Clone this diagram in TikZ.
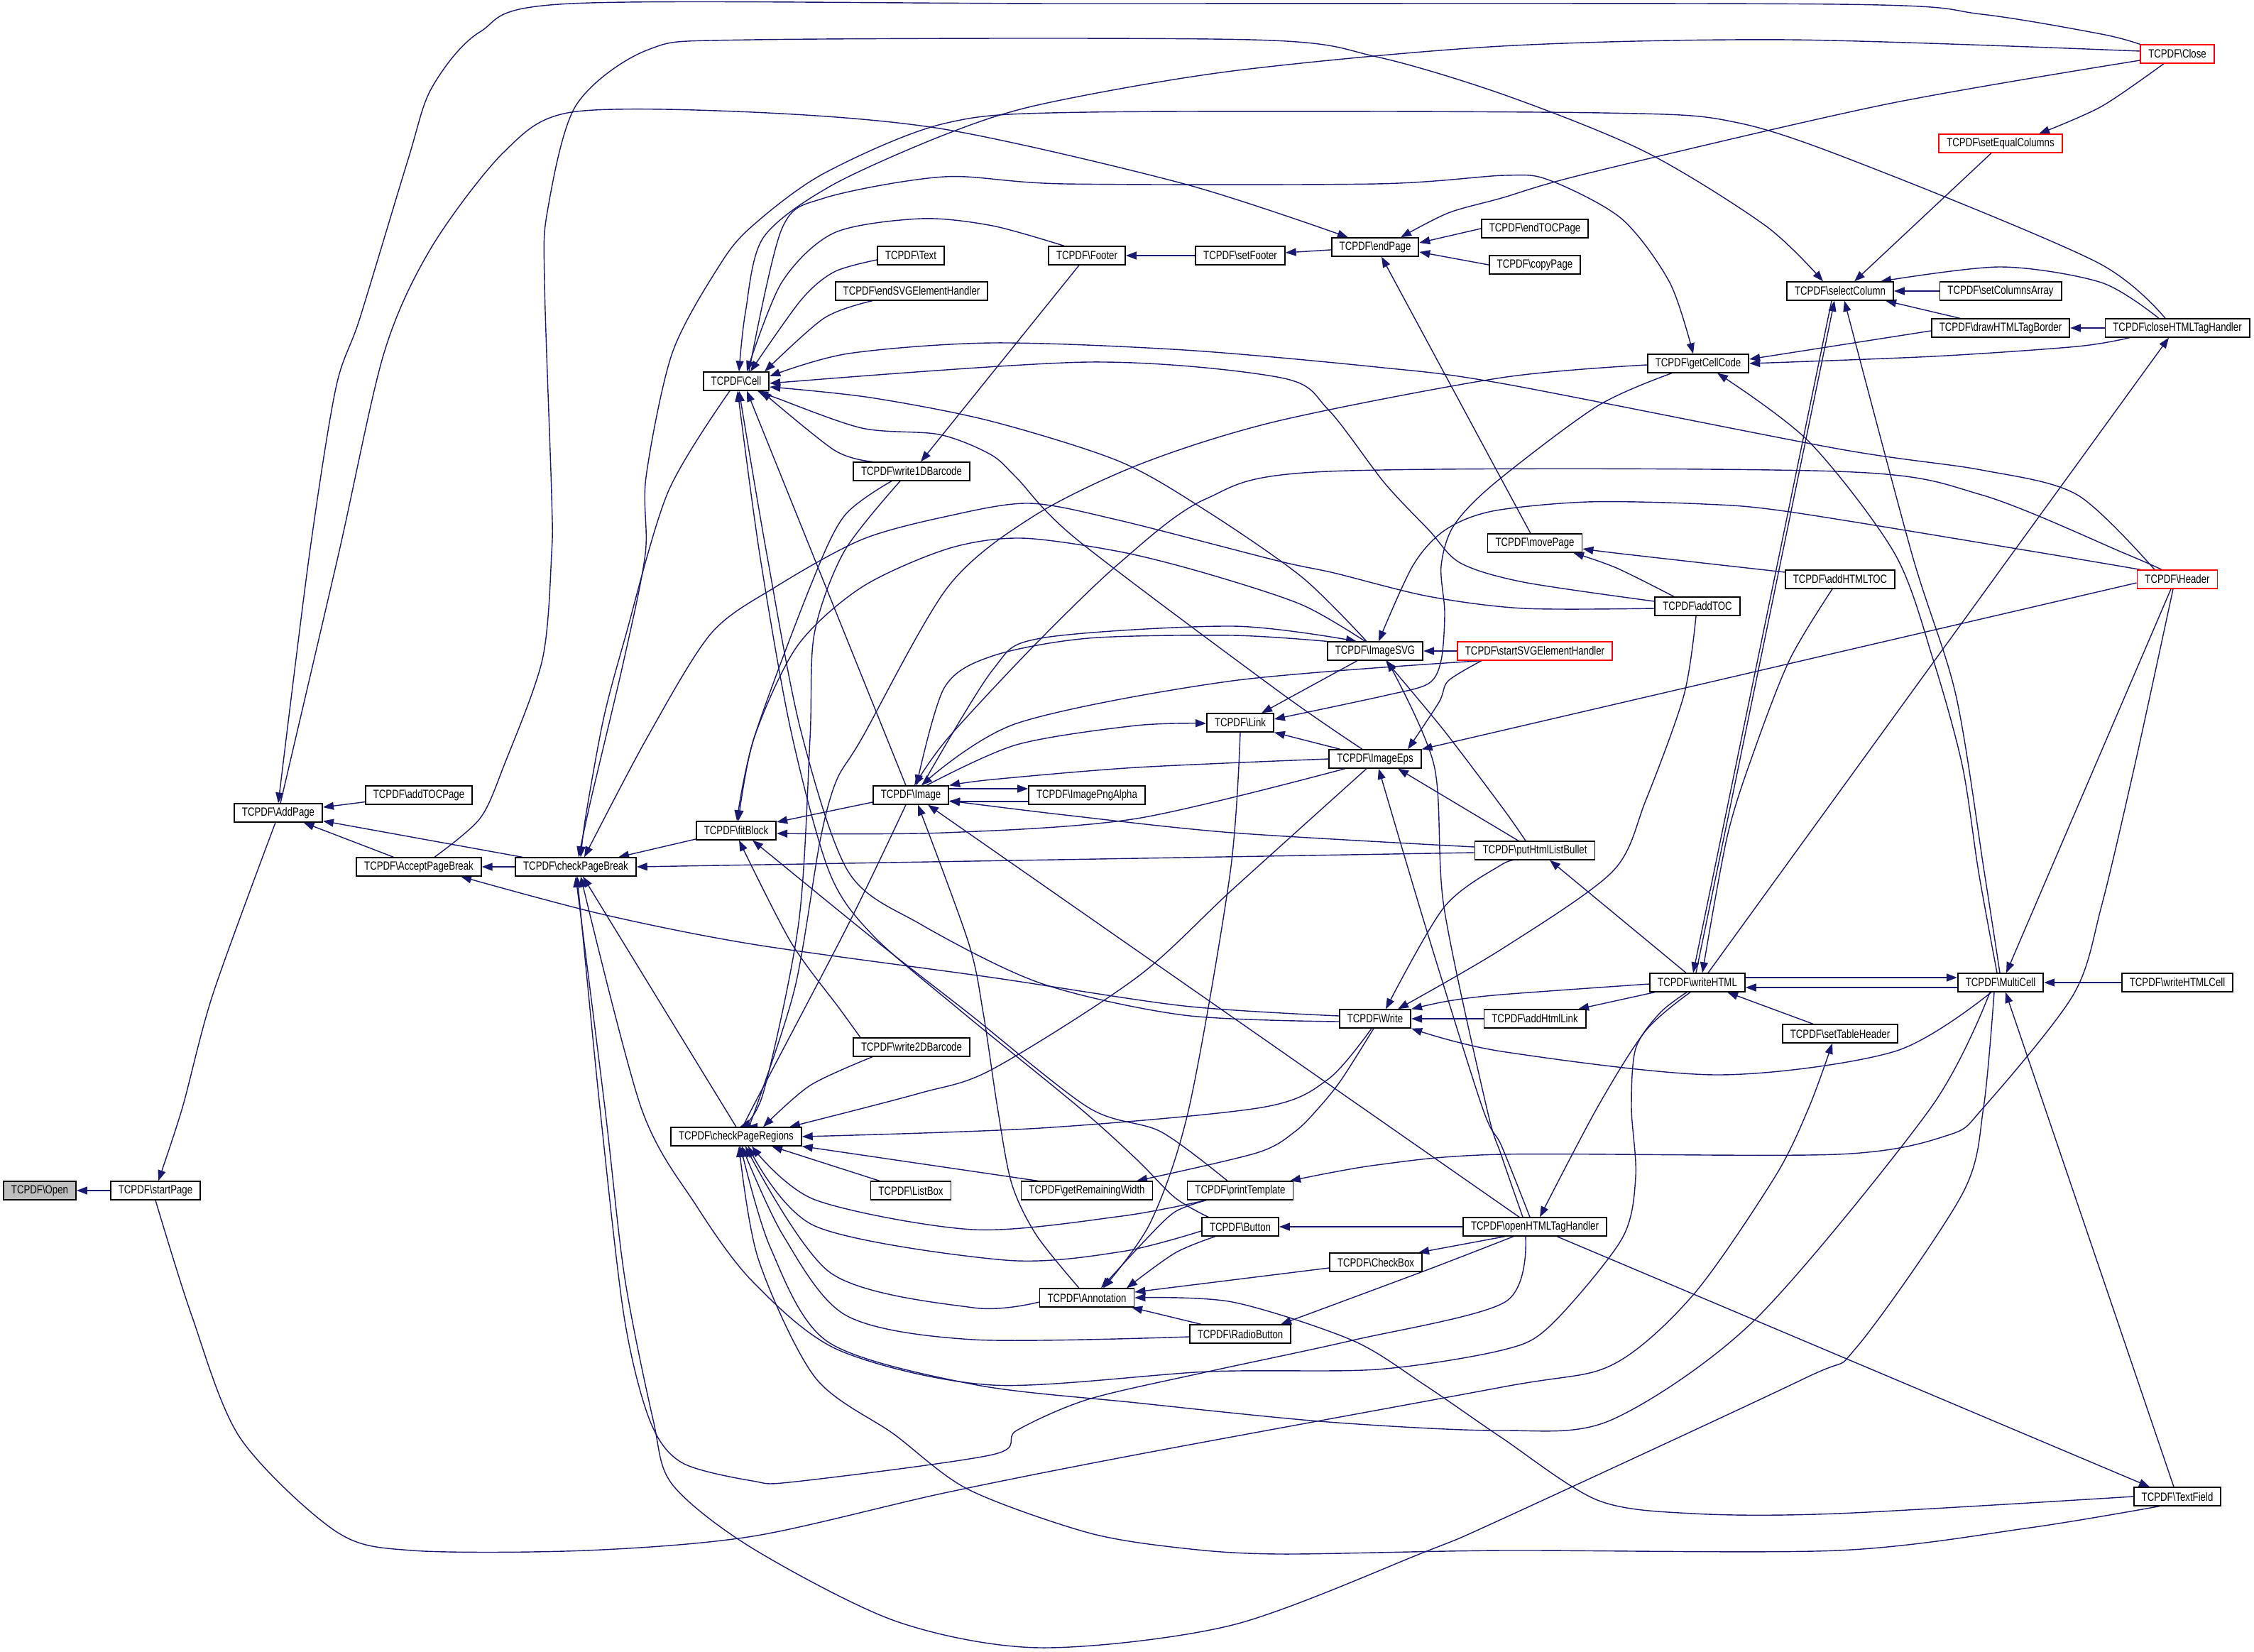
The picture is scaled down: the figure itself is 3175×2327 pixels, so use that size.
\documentclass[tikz,border=0pt]{standalone}
\usepackage{fontspec}
\newfontfamily\nodefont[FakeStretch=0.79]{Liberation Sans}
\usetikzlibrary{arrows.meta}
\pgfdeclarelayer{edges}
\pgfsetlayers{edges,main}
\definecolor{edgeblue}{HTML}{191970}
\definecolor{rootgray}{HTML}{BFBFBF}
\newcommand{\tcp}[1]{TCPDF\textbackslash #1}

\begin{document}
\begin{tikzpicture}[x=0.01cm, y=-0.01cm,
  fn/.style={draw=black, line width=0.5pt, fill=white, text=black,
    font=\nodefont\fontsize{4.76pt}{5.5pt}\selectfont,
    inner xsep=0.11cm, inner ysep=0pt, minimum height=0.255cm},
  root/.style={fn, fill=rootgray},
  trunc/.style={fn, draw=red},
  call/.style={draw=edgeblue, line width=0.4pt, -{Triangle[length=0.15cm,width=0.11cm]}}]
\useasboundingbox (0,0) rectangle (3175,2327);

\node[root] (Open) at (56,1677) {\tcp{Open}};
\node[fn] (startPage) at (219,1677) {\tcp{startPage}};
\node[fn] (AddPage) at (392,1145) {\tcp{AddPage}};
\node[fn] (addTOCPage) at (590,1120) {\tcp{addTOCPage}};
\node[fn] (AcceptPageBreak) at (590,1221) {\tcp{AcceptPageBreak}};
\node[fn] (checkPageBreak) at (811,1221) {\tcp{checkPageBreak}};
\node[fn] (Cell) at (1037,537) {\tcp{Cell}};
\node[fn] (fitBlock) at (1037,1170) {\tcp{fitBlock}};
\node[fn] (checkPageRegions) at (1037,1601) {\tcp{checkPageRegions}};
\node[fn] (Text) at (1283,360) {\tcp{Text}};
\node[fn] (endSVGElementHandler) at (1284,410) {\tcp{endSVGElementHandler}};
\node[fn] (write1DBarcode) at (1284,664) {\tcp{write1DBarcode}};
\node[fn] (Image) at (1283,1120) {\tcp{Image}};
\node[fn] (write2DBarcode) at (1284,1475) {\tcp{write2DBarcode}};
\node[fn] (ListBox) at (1283,1677) {\tcp{ListBox}};
\node[fn] (Footer) at (1531,360) {\tcp{Footer}};
\node[fn] (ImagePngAlpha) at (1531,1120) {\tcp{ImagePngAlpha}};
\node[fn] (getRemainingWidth) at (1531,1677) {\tcp{getRemainingWidth}};
\node[fn] (Annotation) at (1531,1828) {\tcp{Annotation}};
\node[fn] (setFooter) at (1747,360) {\tcp{setFooter}};
\node[fn] (Link) at (1747,1018) {\tcp{Link}};
\node[fn] (printTemplate) at (1747,1677) {\tcp{printTemplate}};
\node[fn] (Button) at (1747,1728) {\tcp{Button}};
\node[fn] (RadioButton) at (1747,1879) {\tcp{RadioButton}};
\node[fn] (endPage) at (1937,348) {\tcp{endPage}};
\node[fn] (ImageSVG) at (1937,917) {\tcp{ImageSVG}};
\node[fn] (ImageEps) at (1937,1069) {\tcp{ImageEps}};
\node[fn] (Write) at (1937,1435) {\tcp{Write}};
\node[fn] (CheckBox) at (1938,1778) {\tcp{CheckBox}};
\node[fn] (endTOCPage) at (2162,322) {\tcp{endTOCPage}};
\node[fn] (copyPage) at (2162,373) {\tcp{copyPage}};
\node[fn] (movePage) at (2162,765) {\tcp{movePage}};
\node[trunc] (startSVGElementHandler) at (2162,917) {\tcp{startSVGElementHandler}};
\node[fn] (putHtmlListBullet) at (2162,1198) {\tcp{putHtmlListBullet}};
\node[fn] (addHtmlLink) at (2162,1435) {\tcp{addHtmlLink}};
\node[fn] (openHTMLTagHandler) at (2162,1728) {\tcp{openHTMLTagHandler}};
\node[fn] (getCellCode) at (2392,512) {\tcp{getCellCode}};
\node[fn] (addTOC) at (2391,854) {\tcp{addTOC}};
\node[fn] (writeHTML) at (2391,1384) {\tcp{writeHTML}};
\node[fn] (selectColumn) at (2592,410) {\tcp{selectColumn}};
\node[fn] (addHTMLTOC) at (2592,816) {\tcp{addHTMLTOC}};
\node[fn] (setTableHeader) at (2592,1456) {\tcp{setTableHeader}};
\node[trunc] (setEqualColumns) at (2818,202) {\tcp{setEqualColumns}};
\node[fn] (setColumnsArray) at (2818,410) {\tcp{setColumnsArray}};
\node[fn] (drawHTMLTagBorder) at (2818,462) {\tcp{drawHTMLTagBorder}};
\node[fn] (MultiCell) at (2818,1384) {\tcp{MultiCell}};
\node[trunc] (Close) at (3067,76) {\tcp{Close}};
\node[fn] (closeHTMLTagHandler) at (3067,462) {\tcp{closeHTMLTagHandler}};
\node[trunc] (Header) at (3067,816) {\tcp{Header}};
\node[fn] (writeHTMLCell) at (3067,1384) {\tcp{writeHTMLCell}};
\node[fn] (TextField) at (3067,2108) {\tcp{TextField}};

\begin{pgfonlayer}{edges}
\foreach \a/\b in {startPage/Open, addTOCPage/AddPage, AcceptPageBreak/AddPage,
    checkPageBreak/AddPage, checkPageBreak/AcceptPageBreak, endPage/setFooter,
    setFooter/Footer, setColumnsArray/selectColumn, closeHTMLTagHandler/drawHTMLTagBorder,
    writeHTMLCell/MultiCell, addHtmlLink/Write, startSVGElementHandler/ImageSVG,
    openHTMLTagHandler/Button}
  \draw[call] (\a) -- (\b);

\draw[call] plot[smooth] coordinates {([xshift=-0.04cm]AddPage.south) (300,1400) (257,1560) ([xshift=0.04cm]startPage.north)};
\draw[call] plot[smooth] coordinates {(startPage.south) (270,1853) (338,2025) (473,2157) (581,2184) (825,2184) (1060,2164) (1330,2103) (1601,2049) (2115,1954) (2270,1923) (2385,1824) (2500,1658) (2548,1560) ([xshift=-0.11cm]setTableHeader.south)};
\draw[call] plot[smooth] coordinates {(Close.north west) (2960,48) (2791,20) (2588,6) (1500,5) (805,5) (676,45) (608,124) (575,224) (507,448) (473,547) (436,780) (AddPage.north)};
\draw[call] plot[smooth] coordinates {([xshift=0.03cm]AddPage.north) (477,780) (541,497) (608,348) (710,214) (805,158) (1060,158) (1330,182) (1668,259) ([xshift=-0.38cm]endPage.north)};
\draw[call] plot[smooth] coordinates {([xshift=0.22cm]AcceptPageBreak.north) (676,1153) (710,1078) (764,929) (777,780) (777,697) (767,398) (771,298) (811,149) (913,70) (1060,56) (1763,56) (1939,80) (2120,134) (2318,214) (2487,318) ([xshift=-0.24cm]selectColumn.north)};
\draw[call] plot[smooth] coordinates {([xshift=-0.17cm]closeHTMLTagHandler.north) (2955,370) (2656,244) (2453,174) (2256,159) (1533,158) (1330,174) (1161,244) (1060,318) (1014,373) (947,497) (910,672) (909,780) (879,929) (832,1128) ([xshift=0.04cm]checkPageBreak.north)};
\draw[call] plot[smooth] coordinates {([yshift=0.04cm]Close.west) (2520,56) (2115,65) (1736,100) (1466,147) (1330,190) (1170,262) (1075,335) (1050,440) ([xshift=0.04cm]Cell.north)};
\draw[call] plot[smooth] coordinates {([yshift=-0.09cm]Close.west) (2656,147) (2237,244) (2115,279) (2040,300) ([xshift=0.36cm]endPage.north)};
\draw[call] plot[smooth] coordinates {([xshift=-0.19cm]Close.south) (2960,150) ([xshift=0.54cm]setEqualColumns.north)};
\draw[call] ([xshift=-0.13cm]setEqualColumns.south) -- ([xshift=0.2cm]selectColumn.north);

\draw[call] plot[smooth] coordinates {([yshift=-0.06cm]Text.west) (1175,383) (1128,423) ([xshift=0.2cm]Cell.north)};
\draw[call] plot[smooth] coordinates {([xshift=-0.55cm]endSVGElementHandler.south) (1161,448) ([xshift=0.4cm]Cell.north)};
\draw[call] plot[smooth] coordinates {([xshift=-0.32cm]Footer.north) (1398,318) (1297,308) (1175,328) (1101,398) ([xshift=0.15cm]Cell.north)};
\draw[call] plot[smooth] coordinates {([xshift=0.18cm]Cell.north) (1101,323) (1161,279) (1330,249) (1500,259) (1939,259) (2120,247) (2183,254) (2284,308) (2352,398) ([xshift=-0.07cm]getCellCode.north)};
\draw[call] plot[smooth] coordinates {([xshift=-0.32cm]Header.north) (2926,697) (2791,662) (2588,632) (2115,540) (1939,517) (1668,493) (1398,483) (1195,498) ([yshift=0.07cm]Cell.east)};
\draw[call] plot[smooth] coordinates {([yshift=0.07cm]addTOC.west) (2146,820) (2057,793) (2013,747) (1950,680) (1871,577) (1804,532) (1533,510) ([yshift=-0.03cm]Cell.east)};
\draw[call] plot[smooth] coordinates {([xshift=-0.12cm]ImageSVG.north) (1834,813) (1700,720) (1577,650) (1395,593) (1226,560) ([yshift=-0.08cm]Cell.east)};
\draw[call] plot[smooth] coordinates {([xshift=-0.18cm]ImageEps.north) (1800,973) (1517,760) (1432,673) (1395,640) (1323,612) (1214,603) (1092,560) ([xshift=0.3cm]Cell.south)};
\draw[call] (endTOCPage.west) -- ([yshift=0.06cm]endPage.east);
\draw[call] (copyPage.west) -- ([yshift=-0.07cm]endPage.east);
\draw[call] ([xshift=-0.06cm]movePage.north) -- ([xshift=0.09cm]endPage.south);
\draw[call] ([xshift=-0.11cm]Footer.south) -- ([xshift=0.13cm]write1DBarcode.north);

\draw[call] ([xshift=-0.57cm]drawHTMLTagBorder.north) -- ([xshift=0.64cm]selectColumn.south);
\draw[call] plot[smooth] coordinates {([xshift=-0.26cm]closeHTMLTagHandler.north) (2960,398) (2818,376) ([xshift=0.57cm]selectColumn.north)};
\draw[call] ([yshift=-0.04cm]drawHTMLTagBorder.west) -- ([yshift=0.06cm]getCellCode.east);
\draw[call] plot[smooth] coordinates {([xshift=-0.67cm]closeHTMLTagHandler.south) (2926,488) (2723,502) (getCellCode.east)};
\draw[call] plot[smooth] coordinates {([xshift=-0.05cm]MultiCell.north) (2787,1228) (2764,1078) (2723,929) (2669,780) (2548,622) ([xshift=0.27cm]getCellCode.south)};
\draw[call] plot[smooth] coordinates {([xshift=-0.01cm]MultiCell.north) (2795,1228) (2755,979) (2693,780) ([xshift=0.06cm]selectColumn.south)};
\draw[call] ([xshift=-0.02cm]writeHTML.north) -- ([xshift=-0.08cm]selectColumn.south);
\draw[call] ([xshift=-0.12cm]selectColumn.south) -- ([xshift=-0.06cm]writeHTML.north);
\draw[call] ([xshift=-0.09cm]Header.south) -- ([xshift=0.08cm]MultiCell.north);
\draw[call] ([yshift=0.07cm]writeHTML.east) -- ([yshift=0.07cm]MultiCell.west);
\draw[call] ([yshift=-0.07cm]MultiCell.west) -- ([yshift=-0.07cm]writeHTML.east);
\draw[call] ([xshift=-0.38cm]setTableHeader.north) -- ([xshift=0.42cm]writeHTML.south);
\draw[call] ([xshift=-0.16cm]writeHTML.north) -- ([xshift=0.21cm]putHtmlListBullet.south);
\draw[call] ([xshift=-0.6cm]writeHTML.south) -- ([xshift=0.61cm]addHtmlLink.north);
\draw[call] plot[smooth] coordinates {([yshift=-0.02cm]writeHTML.west) (2115,1401) (2040,1410) (Write.north east)};
\draw[call] plot[smooth] coordinates {([xshift=-0.13cm]MultiCell.south) (2669,1481) (2419,1514) (2115,1481) (Write.south east)};
\draw[call] plot[smooth] coordinates {([xshift=-0.11cm]addHTMLTOC.south) (2521,929) (2470,1060) (2433,1178) ([xshift=0.07cm]writeHTML.north)};
\draw[call] plot[smooth] coordinates {([yshift=0.1cm]addHTMLTOC.west) (2284,780) ([yshift=-0.08cm]movePage.east)};
\draw[call] plot[smooth] coordinates {([xshift=-0.33cm]addTOC.north) (2277,800) ([xshift=0.54cm]movePage.south)};
\draw[call] plot[smooth] coordinates {([yshift=-0.03cm]addTOC.west) (2146,857) (2012,840) (1879,807) (1800,790) (1577,733) (1450,709) (1335,727) (1214,760) (1092,827) (1001,893) (911,1040) ([xshift=0.12cm]checkPageBreak.north)};
\draw[call] plot[smooth] coordinates {([xshift=-0.02cm]addTOC.south) (2372,979) (2318,1128) (2271,1228) (2115,1337) ([xshift=0.32cm]Write.north)};
\draw[call] ([xshift=0.15cm]writeHTML.north) -- ([xshift=-0.12cm]closeHTMLTagHandler.south);

\draw[call] plot[smooth] coordinates {([xshift=-0.23cm]putHtmlListBullet.south) (2115,1218) (2034,1278) ([xshift=0.15cm]Write.north)};
\draw[call] ([yshift=-0.03cm]putHtmlListBullet.west) -- (checkPageBreak.east);
\draw[call] plot[smooth] coordinates {([yshift=0.05cm]putHtmlListBullet.west) (1736,1173) (1500,1148) ([yshift=-0.08cm]Image.east)};
\draw[call] ([xshift=-0.23cm]putHtmlListBullet.north) -- ([xshift=0.32cm]ImageEps.south);
\draw[call] plot[smooth] coordinates {([xshift=-0.13cm]putHtmlListBullet.north) (2118,1140) (2034,1029) ([xshift=0.15cm]ImageSVG.south)};
\draw[call] plot[smooth] coordinates {([xshift=-0.17cm]openHTMLTagHandler.north) (2115,1628) (2094,1560) (2034,1278) (2020,1078) ([xshift=0.17cm]ImageSVG.south)};
\draw[call] plot[smooth] coordinates {([xshift=-0.07cm]openHTMLTagHandler.north) (2115,1614) (2088,1560) (2007,1302) ([xshift=0.05cm]ImageEps.south)};
\draw[call] ([xshift=-0.22cm]openHTMLTagHandler.north) -- ([xshift=0.24cm]Image.south);
\draw[call] ([xshift=-0.42cm]openHTMLTagHandler.south) -- ([xshift=0.6cm]CheckBox.north);
\draw[call] plot[smooth] coordinates {([xshift=-0.3cm]openHTMLTagHandler.south) (2007,1790) ([xshift=0.57cm]RadioButton.north)};
\draw[call] ([xshift=0.31cm]openHTMLTagHandler.south) -- ([xshift=-0.39cm]TextField.north);
\draw[call] plot[smooth] coordinates {([xshift=-0.13cm]openHTMLTagHandler.south) (2120,1834) (1905,1888) (1702,1932) (1533,1971) (1432,2015) (1398,2049) (1121,2087) (1060,2086) (960,2060) (915,2000) (879,1854) (845,1560) ([xshift=0.02cm]checkPageBreak.south)};
\draw[call] plot[smooth] coordinates {([xshift=-0.1cm]writeHTML.south) (2318,1452) (2250,1560) ([xshift=0.07cm]openHTMLTagHandler.north)};
\draw[call] plot[smooth] coordinates {([xshift=-0.15cm]writeHTML.south) (2338,1427) (2304,1477) (2298,1560) (2304,1658) (2284,1746) (2183,1868) (2115,1902) (1939,1929) (1702,1932) (1398,1951) (1182,1902) (1060,1805) (980,1697) (903,1560) ([xshift=0.07cm]checkPageBreak.south)};
\draw[call] plot[smooth] coordinates {([xshift=-0.09cm]MultiCell.south) (2794,1560) (2764,1682) (2615,1898) (2541,1942) (2115,2140) (2007,2186) (1736,2289) (1466,2321) (1263,2284) (1060,2181) (947,2091) (920,2000) (880,1800) (852,1560) (checkPageBreak.south)};
\draw[call] plot[smooth] coordinates {([xshift=-0.15cm]MultiCell.south) (2720,1560) (2473,1858) (2270,2000) (2115,2015) (1871,2003) (1601,1976) (1371,1950) (1166,1890) (1085,1757) ([xshift=0.06cm]checkPageRegions.south)};
\draw[call] plot[smooth] coordinates {([xshift=-0.25cm]TextField.south) (2859,2152) (2588,2184) (2115,2184) (1804,2189) (1668,2181) (1533,2159) (1364,2098) (1259,2020) (1148,1940) (1068,1773) ([xshift=0.04cm]checkPageRegions.south)};
\draw[call] plot[smooth] coordinates {(TextField.west) (2588,2132) (2385,2132) (2250,2113) (2115,2025) (2007,1951) (1905,1888) (1736,1834) (Annotation.east)};
\draw[call] ([xshift=-0.05cm]TextField.north) -- ([xshift=0.07cm]MultiCell.south);

\draw[call] plot[smooth] coordinates {([xshift=-0.11cm]Annotation.north) (1460,1740) (1425,1667) (1405,1560) (1385,1427) (1364,1327) ([xshift=0.1cm]Image.south)};
\draw[call] plot[smooth] coordinates {(Link.south) (1733,1228) (1675,1560) (1621,1721) ([xshift=0.23cm]Annotation.north)};
\draw[call] plot[smooth] coordinates {([xshift=-0.48cm]printTemplate.south) (1655,1707) (1614,1746) ([xshift=0.2cm]Annotation.north)};
\draw[call] plot[smooth] coordinates {([xshift=-0.35cm]Button.south) (1655,1765) ([xshift=0.56cm]Annotation.north)};
\draw[call] ([yshift=-0.08cm]CheckBox.west) -- ([yshift=0.08cm]Annotation.east);
\draw[call] ([xshift=-0.55cm]RadioButton.north) -- ([xshift=0.63cm]Annotation.south);
\draw[call] plot[smooth] coordinates {([yshift=-0.06cm]Annotation.west) (1371,1842) (1170,1793) ([xshift=0.13cm]checkPageRegions.south)};
\draw[call] plot[smooth] coordinates {([yshift=-0.04cm]RadioButton.west) (1371,1887) (1192,1853) (1103,1740) ([xshift=0.08cm]checkPageRegions.south)};
\draw[call] plot[smooth] coordinates {([yshift=-0.06cm]Button.west) (1580,1763) (1416,1775) (1148,1727) ([xshift=0.17cm]checkPageRegions.south)};
\draw[call] plot[smooth] coordinates {([xshift=-0.48cm]printTemplate.south) (1580,1713) (1371,1732) (1148,1690) ([xshift=0.22cm]checkPageRegions.south)};
\draw[call] ([xshift=-0.69cm]getRemainingWidth.north) -- (checkPageRegions.south east);
\draw[call] ([xshift=-0.44cm]ListBox.north) -- ([xshift=0.5cm]checkPageRegions.south);
\draw[call] plot[smooth] coordinates {([xshift=-0.05cm]Write.south) (1871,1520) (1777,1560) (1466,1589) (checkPageRegions.east)};
\draw[call] plot[smooth] coordinates {([xshift=-0.02cm]Write.south) (1890,1520) (1858,1560) (1824,1594) (1770,1624) ([xshift=0.7cm]getRemainingWidth.north)};
\draw[call] plot[smooth] coordinates {([xshift=-0.12cm]ImageEps.south) (1736,1253) (1601,1377) (1398,1506) (1295,1540) ([xshift=0.75cm]checkPageRegions.north)};
\draw[call] plot[smooth] coordinates {([xshift=-0.07cm]Image.south) (1195,1302) (1060,1560) ([xshift=0.1cm]checkPageRegions.north)};
\draw[call] plot[smooth] coordinates {([yshift=-0.02cm]getCellCode.west) (2115,532) (1800,593) (1608,653) (1456,727) (1335,827) (1214,1040) (1178,1100) (1155,1185) (1120,1390) (1065,1560) ([xshift=0.15cm]checkPageRegions.north)};
\draw[call] plot[smooth] coordinates {([xshift=-0.37cm]getCellCode.south) (2250,572) (2106,680) (2048,740) (2030,797) (2035,863) (2030,930) (2012,963) (1950,980) ([yshift=0.05cm]Link.east)};

\draw[call] ([xshift=-0.25cm]ImageSVG.south) -- ([xshift=0.3cm]Link.north);
\draw[call] ([xshift=-0.49cm]ImageEps.north) -- (Link.south east);
\draw[call] plot[smooth] coordinates {([xshift=0.22cm]Image.north) (1432,1049) (1600,1022) ([yshift=-0.01cm]Link.west)};
\draw[call] plot[smooth] coordinates {(ImageSVG.north west) (1736,895) (1533,899) (1398,924) (1330,969) ([xshift=0.08cm]Image.north)};
\draw[call] plot[smooth] coordinates {([xshift=0.16cm]Image.north) (1398,944) (1466,899) (1736,882) ([xshift=-0.26cm]ImageSVG.north)};
\draw[call] plot[smooth] coordinates {([xshift=-0.14cm]ImageSVG.north) (1834,852) (1700,808) (1577,777) (1438,758) (1335,773) (1214,827) (1123,910) (1062,1040) ([xshift=0.03cm]fitBlock.north)};
\draw[call] plot[smooth] coordinates {(ImageEps.west) (1601,1081) (1398,1098) (Image.north east)};
\draw[call] plot[smooth] coordinates {([xshift=-0.42cm]ImageEps.south) (1601,1153) (1330,1173) ([yshift=-0.04cm]fitBlock.east)};
\draw[call] ([yshift=-0.1cm]Image.west) -- ([yshift=0.12cm]fitBlock.east);
\draw[call] ([yshift=0.09cm]Image.east) -- ([yshift=0.09cm]ImagePngAlpha.west);
\draw[call] ([yshift=-0.09cm]ImagePngAlpha.west) -- ([yshift=-0.09cm]Image.east);
\draw[call] plot[smooth] coordinates {([xshift=-0.75cm]startSVGElementHandler.south) (2040,959) (2027,989) ([xshift=0.46cm]ImageEps.north)};
\draw[call] plot[smooth] coordinates {([xshift=-0.75cm]startSVGElementHandler.south) (1736,959) (1432,1019) ([xshift=0.15cm]Image.north)};
\draw[call] plot[smooth] coordinates {([xshift=-0.52cm]Header.north) (2859,776) (2521,721) (2400,710) (2236,707) (2102,720) (2035,747) (1990,797) ([xshift=0.05cm]ImageSVG.north)};
\draw[call] ([yshift=-0.05cm]Header.west) -- (ImageEps.north east);
\draw[call] plot[smooth] coordinates {([xshift=-0.22cm]Header.north) (2994,780) (2791,697) (2588,664) (1871,664) (1698,703) (1577,793) (1456,910) (1335,1040) ([xshift=0.05cm]Image.north)};
\draw[call] plot[smooth] coordinates {([xshift=-0.06cm]Header.south) (3007,1078) (2960,1277) (2920,1402) (2794,1560) (2744,1599) (2588,1626) (2115,1626) (1939,1641) ([xshift=0.7cm]printTemplate.north)};

\draw[call] plot[smooth] coordinates {([yshift=0.04cm]Write.west) (1668,1417) (1398,1377) (1060,1330) (845,1287) ([xshift=0.59cm]AcceptPageBreak.south)};
\draw[call] plot[smooth] coordinates {([yshift=-0.04cm]Write.west) (1668,1430) (1466,1385) (1297,1302) (1195,1228) (1128,1029) (1080,780) ([xshift=0.04cm]Cell.south)};
\draw[call] plot[smooth] coordinates {([xshift=-0.45cm]Button.north) (1655,1687) (1601,1633) (1520,1560) (1351,1422) (1229,1317) (1168,1228) (1114,1029) (1070,780) ([xshift=0.02cm]Cell.south)};
\draw[call] plot[smooth] coordinates {([xshift=-0.18cm]printTemplate.north) (1635,1594) (1533,1560) (1364,1427) (1236,1327) ([xshift=0.23cm]fitBlock.south)};
\draw[call] plot[smooth] coordinates {([xshift=-0.72cm]write2DBarcode.north) (1182,1420) (1114,1327) ([xshift=0.04cm]fitBlock.south)};
\draw[call] plot[smooth] coordinates {([xshift=-0.55cm]write2DBarcode.south) (1141,1529) ([xshift=0.38cm]checkPageRegions.north)};
\draw[call] plot[smooth] coordinates {([xshift=-0.28cm]write1DBarcode.south) (1189,727) (1141,827) (1062,1040) ([xshift=0.01cm]fitBlock.north)};
\draw[call] plot[smooth] coordinates {([xshift=-0.16cm]write1DBarcode.south) (1189,777) (1147,893) (1141,1040) (1125,1300) (1075,1540) ([xshift=0.05cm]checkPageRegions.north)};
\draw[call] plot[smooth] coordinates {([xshift=-0.55cm]write1DBarcode.north) (1175,634) ([xshift=0.35cm]Cell.south)};
\draw[call] ([xshift=-0.07cm]Image.north) -- ([xshift=0.15cm]Cell.south);
\draw[call] plot[smooth] coordinates {([xshift=-0.09cm]Cell.south) (941,693) (880,900) (850,1013) (825,1150) ([xshift=0.07cm]checkPageBreak.north)};
\draw[call] ([yshift=-0.12cm]fitBlock.west) -- ([xshift=0.6cm]checkPageBreak.north);
\draw[call] (checkPageRegions.north) -- ([xshift=0.1cm]checkPageBreak.south);
\end{pgfonlayer}
\end{tikzpicture}
\end{document}
